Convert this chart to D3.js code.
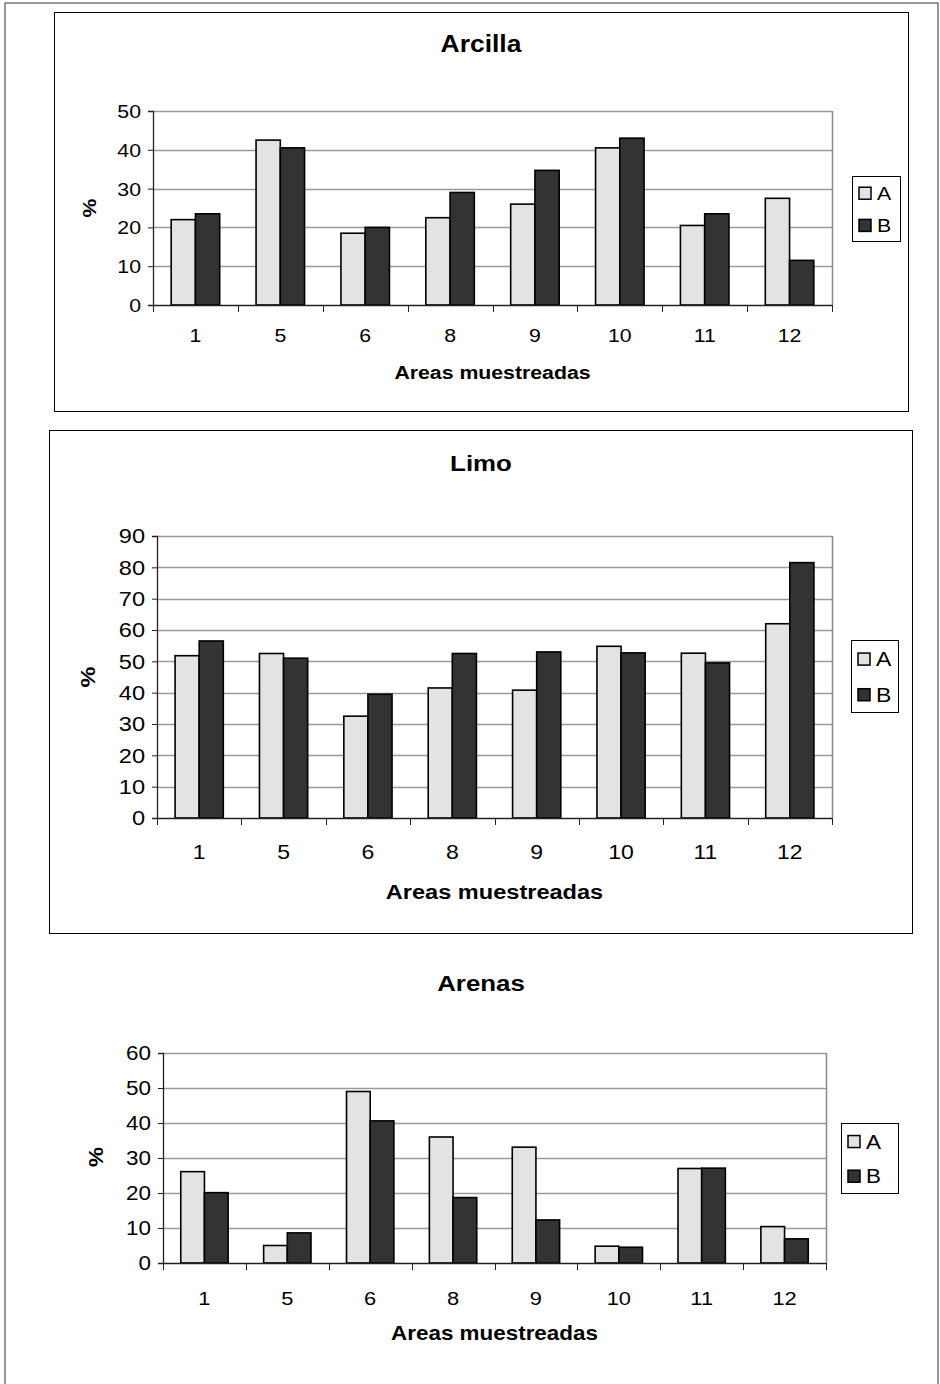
<!DOCTYPE html>
<html><head><meta charset="utf-8">
<script src="https://cdn.jsdelivr.net/npm/d3@7/dist/d3.min.js"></script>
<style>body{margin:0;background:#fff}svg{display:block}text{font-family:"Liberation Sans",Arial,sans-serif}</style>
</head><body>
<svg id="c" width="940" height="1384"></svg>
<script>
const categories = ["1","5","6","8","9","10","11","12"];
const seriesNames = ["A","B"];
const arcillaA = [22, 42.5, 18.5, 22.5, 26, 40.5, 20.5, 27.5];
const arcillaB = [23.5, 40.5, 20, 29, 34.7, 43, 23.5, 11.5];
const limoA = [51.8, 52.5, 32.5, 41.5, 40.8, 54.8, 52.6, 62];
const limoB = [56.5, 51, 39.5, 52.5, 53, 52.7, 49.5, 81.5];
const arenasA = [26.1, 5, 49, 36, 33.1, 4.8, 27, 10.4];
const arenasB = [20.1, 8.6, 40.6, 18.7, 12.3, 4.5, 27.1, 6.9];
const arcillaTicks = [0,10,20,30,40,50];
const limoTicks = [0,10,20,30,40,50,60,70,80,90];
const arenasTicks = [0,10,20,30,40,50,60];

const svg = d3.select("#c");
const fills = {A:"#e3e3e3", B:"#333333"};
const SX = 1.15;

// horizontally widen text glyphs around their anchor point
function stretch(sel){
  sel.each(function(){
    const t = d3.select(this);
    const x = +t.attr("x") || 0, y = +t.attr("y") || 0;
    const prev = t.attr("transform") || "";
    t.attr("x",0).attr("y",0).attr("transform", `${prev} translate(${x},${y}) scale(${SX},1)`);
  });
}

// outer frame
svg.append("rect").attr("x",5).attr("y",3).attr("width",933).attr("height",1400)
  .attr("fill","none").attr("stroke","#555").attr("stroke-width",1.2);

function drawChart(o){
  const g = svg.append("g");
  if(o.box){
    g.append("rect").attr("x",o.box[0]+0.5).attr("y",o.box[1]+0.5)
      .attr("width",o.box[2]-o.box[0]).attr("height",o.box[3]-o.box[1])
      .attr("fill","none").attr("stroke","#000").attr("stroke-width",1);
  }
  const x = d3.scaleBand().domain(categories).range([o.x0,o.x1]);
  const y = d3.scaleLinear().domain([0,o.max]).range([o.yb,o.yt]);
  const bw = x.bandwidth()/3.5;
  // gridlines
  g.append("g").selectAll("line").data(o.ticks.filter(t=>t>0)).join("line")
    .attr("x1",o.x0).attr("x2",o.x1).attr("y1",d=>Math.round(y(d))+0.5).attr("y2",d=>Math.round(y(d))+0.5)
    .attr("stroke","#9a9a9a").attr("stroke-width",1.3);
  // right border
  g.append("line").attr("x1",o.x1+0.5).attr("x2",o.x1+0.5).attr("y1",o.yt).attr("y2",o.yb)
    .attr("stroke","#888").attr("stroke-width",1.5);
  // bars
  const data = [];
  categories.forEach((c,i)=>{ data.push({c,s:"A",v:o.a[i]}); data.push({c,s:"B",v:o.b[i]}); });
  g.append("g").selectAll("rect").data(data).join("rect")
    .attr("x",d=>x(d.c)+x.bandwidth()/2 + (d.s==="A"?-bw:0))
    .attr("y",d=>y(d.v)).attr("width",bw).attr("height",d=>y(0)-y(d.v))
    .attr("fill",d=>fills[d.s]).attr("stroke","#000").attr("stroke-width",1.6);
  // y axis
  const ya = d3.axisLeft(y).tickValues(o.ticks).tickSize(5).tickPadding(7);
  const yg = g.append("g").attr("transform",`translate(${o.x0},0)`).call(ya);
  yg.select(".domain").attr("stroke","#222").attr("stroke-width",1.3);
  yg.selectAll(".tick line").attr("stroke","#222");
  const yt = yg.selectAll(".tick text").attr("font-size",o.fsT).attr("fill","#000")
    .attr("font-family","'Liberation Sans',Arial,sans-serif").attr("dy",null).attr("dominant-baseline","central");
  stretch(yt);
  // x axis
  const xb = g.append("g").attr("transform",`translate(0,${o.yb})`);
  xb.append("line").attr("x1",o.x0).attr("x2",o.x1).attr("y1",0.5).attr("y2",0.5).attr("stroke","#222").attr("stroke-width",1.5);
  const bounds = categories.map(c=>x(c)).concat([o.x1]);
  xb.selectAll("line.t").data(bounds).join("line").attr("class","t")
    .attr("x1",d=>Math.round(d)+0.5).attr("x2",d=>Math.round(d)+0.5).attr("y1",0).attr("y2",7).attr("stroke","#222");
  stretch(xb.selectAll("text").data(categories).join("text")
    .attr("x",d=>x(d)+x.bandwidth()/2).attr("y",o.catY-o.yb).attr("text-anchor","middle")
    .attr("dominant-baseline","central").attr("font-size",o.fsC).text(d=>d));
  // titles
  stretch(g.append("text").attr("x",o.titleX).attr("y",o.titleY).attr("text-anchor","middle")
    .attr("dominant-baseline","central").attr("font-weight","bold").attr("font-size",o.fsTitle).text(o.title));
  stretch(g.append("text").attr("x",(o.x0+o.x1)/2).attr("y",o.xTitleY).attr("text-anchor","middle")
    .attr("dominant-baseline","central").attr("font-weight","bold").attr("font-size",o.fsX).text("Areas muestreadas"));
  g.append("text").attr("transform",`translate(${o.pctX},${o.pctY}) rotate(-90) scale(${SX},1)`).attr("text-anchor","middle")
    .attr("dominant-baseline","central").attr("font-weight","bold").attr("font-size",o.fsX).text("%");
  // legend
  const L = o.leg;
  g.append("rect").attr("x",L[0]+0.5).attr("y",L[1]+0.5).attr("width",L[2]-L[0]).attr("height",L[3]-L[1])
    .attr("fill","#fff").attr("stroke","#000");
  const ly = d3.scalePoint().domain(seriesNames).range([L[1]+(L[3]-L[1])*0.265, L[1]+(L[3]-L[1])*0.76]);
  const li = g.append("g").selectAll("g").data(seriesNames).join("g")
    .attr("transform",d=>`translate(${L[0]+7},${ly(d)})`);
  li.append("rect").attr("x",0).attr("y",-6).attr("width",12).attr("height",12)
    .attr("fill",d=>fills[d]).attr("stroke","#000").attr("stroke-width",1.5);
  stretch(li.append("text").attr("x",18).attr("y",0).attr("dominant-baseline","central").attr("font-size",o.fsL).text(d=>d));
}

drawChart({box:[54,12,908,411], title:"Arcilla", titleX:481, titleY:44,
  x0:153, x1:832, yt:111, yb:305, max:50, ticks:arcillaTicks, a:arcillaA, b:arcillaB,
  fsT:18.5, fsC:18.5, fsX:18.5, fsTitle:23, fsL:18.5,
  catY:336, xTitleY:373, pctX:90, pctY:208, leg:[852,176,900,241]});
drawChart({box:[49,430,912,933], title:"Limo", titleX:481, titleY:463,
  x0:157, x1:832, yt:536, yb:818, max:90, ticks:limoTicks, a:limoA, b:limoB,
  fsT:20.5, fsC:20, fsX:20.5, fsTitle:22.5, fsL:20,
  catY:852, xTitleY:892, pctX:88, pctY:677, leg:[851,640,898,712]});
drawChart({box:null, title:"Arenas", titleX:481, titleY:983,
  x0:163, x1:826, yt:1053, yb:1263, max:60, ticks:arenasTicks, a:arenasA, b:arenasB,
  fsT:19.5, fsC:19, fsX:19.5, fsTitle:22.5, fsL:19.5,
  catY:1298, xTitleY:1333, pctX:96, pctY:1157, leg:[841,1123,898,1193]});
</script>
</body></html>
